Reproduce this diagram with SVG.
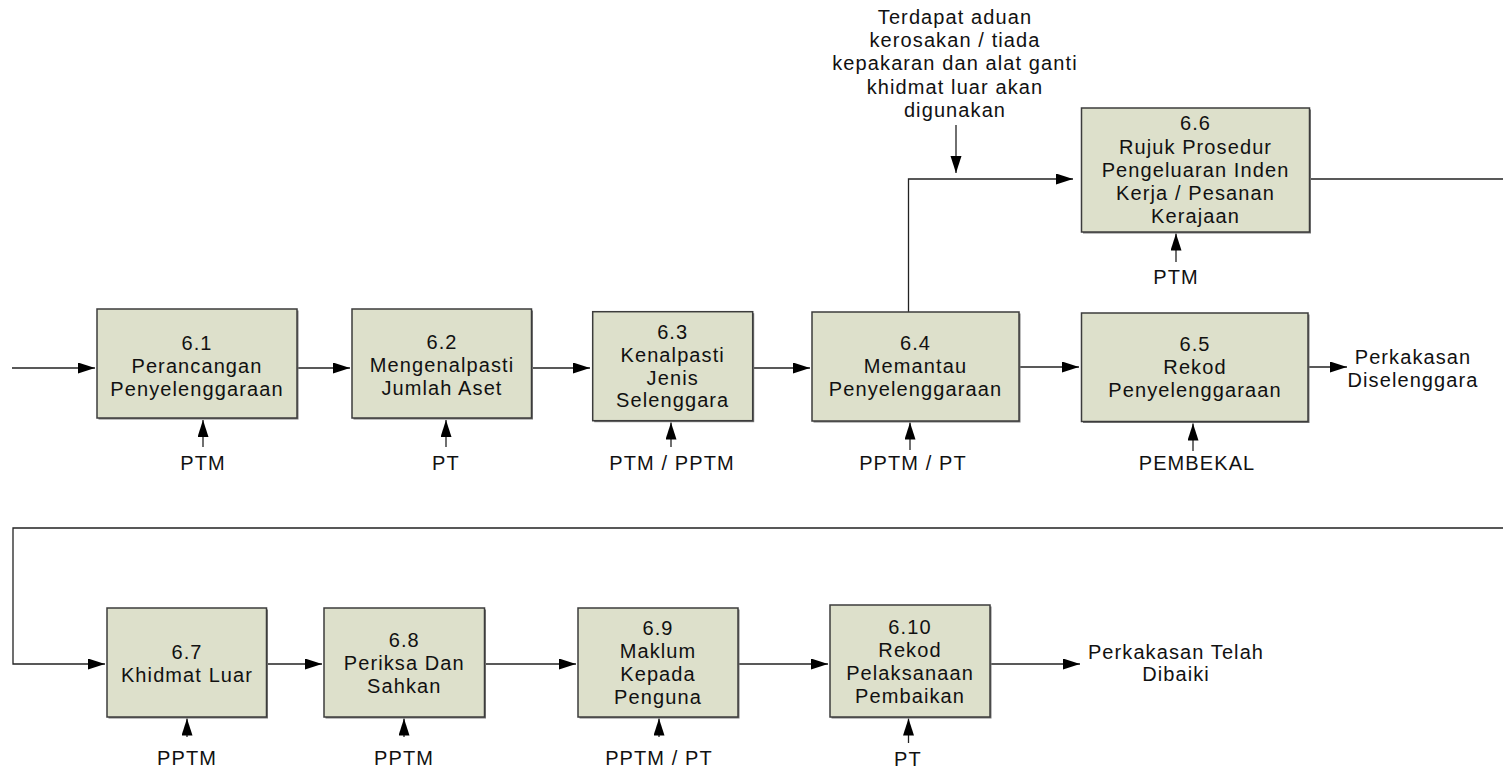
<svg xmlns="http://www.w3.org/2000/svg" width="1503" height="768" viewBox="0 0 1503 768">
<style>
text{font-family:"Liberation Sans",Arial,sans-serif;font-size:20px;letter-spacing:1.1px;fill:#111;text-anchor:middle}
.box{fill:#dde0cb;stroke:#3c3c3c;stroke-width:1.5}
.sh{fill:#7a7a7a}
.c{fill:none;stroke:#222;stroke-width:1.3}
</style>
<defs>
<marker id="ah" markerUnits="userSpaceOnUse" markerWidth="18" markerHeight="12" refX="17" refY="5.5" orient="auto">
<path d="M0,0 L17,5.5 L0,11 z" fill="#000"/>
</marker>
</defs>
<rect width="1503" height="768" fill="#fff"/>

<g id="connectors">
<path class="c" d="M12,368 H95" marker-end="url(#ah)"/>
<path class="c" d="M297,368 H350" marker-end="url(#ah)"/>
<path class="c" d="M531.5,368 H590" marker-end="url(#ah)"/>
<path class="c" d="M752.7,368 H810" marker-end="url(#ah)"/>
<path class="c" d="M1019,367 H1079" marker-end="url(#ah)"/>
<path class="c" d="M1308,367 H1347" marker-end="url(#ah)"/>
<path class="c" d="M908.5,312 V179 H1073" marker-end="url(#ah)"/>
<path class="c" d="M956,125 V173" marker-end="url(#ah)"/>
<path class="c" d="M1310,179 H1503"/>
<path class="c" d="M1503,528 H13 V664 H105" marker-end="url(#ah)"/>
<path class="c" d="M266.5,664 H322" marker-end="url(#ah)"/>
<path class="c" d="M485,664 H576" marker-end="url(#ah)"/>
<path class="c" d="M738,664 H828" marker-end="url(#ah)"/>
<path class="c" d="M990,664 H1080" marker-end="url(#ah)"/>
<path class="c" d="M203,447 V420" marker-end="url(#ah)"/>
<path class="c" d="M446,447 V420" marker-end="url(#ah)"/>
<path class="c" d="M671,447 V422.5" marker-end="url(#ah)"/>
<path class="c" d="M910,450 V422.5" marker-end="url(#ah)"/>
<path class="c" d="M1193,451 V423.5" marker-end="url(#ah)"/>
<path class="c" d="M1176,262 V233.5" marker-end="url(#ah)"/>
<path class="c" d="M187,737 V718.5" marker-end="url(#ah)"/>
<path class="c" d="M404,737 V718.5" marker-end="url(#ah)"/>
<path class="c" d="M659,737 V718.5" marker-end="url(#ah)"/>
<path class="c" d="M908.5,743 V718.5" marker-end="url(#ah)"/>
</g>

<g id="n6_1">
<rect class="sh" x="98.5" y="310.5" width="200" height="109"/>
<rect class="box" x="97" y="309" width="200" height="109"/>
<text x="197" y="350">6.1</text><text x="197" y="373">Perancangan</text><text x="197" y="396">Penyelenggaraan</text>
</g>
<g id="n6_2">
<rect class="sh" x="353.5" y="310.5" width="179.5" height="109"/>
<rect class="box" x="352" y="309" width="179.5" height="109"/>
<text x="442" y="349">6.2</text><text x="442" y="372">Mengenalpasti</text><text x="442" y="395">Jumlah Aset</text>
</g>
<g id="n6_3">
<rect class="sh" x="594.2" y="313.2" width="160" height="109"/>
<rect class="box" x="592.7" y="311.7" width="160" height="109"/>
<text x="672.7" y="339">6.3</text><text x="672.7" y="362">Kenalpasti</text><text x="672.7" y="385">Jenis</text><text x="672.7" y="407">Selenggara</text>
</g>
<g id="n6_4">
<rect class="sh" x="813.5" y="313.5" width="207" height="109"/>
<rect class="box" x="812" y="312" width="207" height="109"/>
<text x="915.5" y="350">6.4</text><text x="915.5" y="373">Memantau</text><text x="915.5" y="396">Penyelenggaraan</text>
</g>
<g id="n6_5">
<rect class="sh" x="1083" y="314.5" width="226.5" height="108.5"/>
<rect class="box" x="1081.5" y="313" width="226.5" height="108.5"/>
<text x="1195" y="351">6.5</text><text x="1195" y="374">Rekod</text><text x="1195" y="397">Penyelenggaraan</text>
</g>
<g id="n6_6">
<rect class="sh" x="1083" y="109.5" width="228" height="124"/>
<rect class="box" x="1081.5" y="108" width="228" height="124"/>
<text x="1195.5" y="130">6.6</text><text x="1195.5" y="153.5">Rujuk Prosedur</text><text x="1195.5" y="177">Pengeluaran Inden</text><text x="1195.5" y="200">Kerja / Pesanan</text><text x="1195.5" y="223">Kerajaan</text>
</g>
<g id="n6_7">
<rect class="sh" x="108.5" y="609.5" width="159.5" height="109"/>
<rect class="box" x="107" y="608" width="159.5" height="109"/>
<text x="187" y="659">6.7</text><text x="187" y="682">Khidmat Luar</text>
</g>
<g id="n6_8">
<rect class="sh" x="325.5" y="609.5" width="160.5" height="109"/>
<rect class="box" x="324" y="608" width="160.5" height="109"/>
<text x="404.3" y="647">6.8</text><text x="404.3" y="670">Periksa Dan</text><text x="404.3" y="693">Sahkan</text>
</g>
<g id="n6_9">
<rect class="sh" x="579.5" y="609.5" width="160" height="109"/>
<rect class="box" x="578" y="608" width="160" height="109"/>
<text x="658" y="635">6.9</text><text x="658" y="658">Maklum</text><text x="658" y="681">Kepada</text><text x="658" y="704">Penguna</text>
</g>
<g id="n6_10">
<rect class="sh" x="831.5" y="606.5" width="160" height="112"/>
<rect class="box" x="830" y="605" width="160" height="112"/>
<text x="910" y="634">6.10</text><text x="910" y="657">Rekod</text><text x="910" y="680">Pelaksanaan</text><text x="910" y="703">Pembaikan</text>
</g>

<g id="labels">
<text x="955" y="24">Terdapat aduan</text>
<text x="955" y="47">kerosakan / tiada</text>
<text x="955" y="70">kepakaran dan alat ganti</text>
<text x="955" y="94">khidmat luar akan</text>
<text x="955" y="117">digunakan</text>
<text x="1413" y="364">Perkakasan</text>
<text x="1413" y="387">Diselenggara</text>
<text x="1176" y="659">Perkakasan Telah</text>
<text x="1176" y="681">Dibaiki</text>
<text x="203" y="470">PTM</text>
<text x="446" y="470">PT</text>
<text x="672" y="470">PTM / PPTM</text>
<text x="913" y="470">PPTM / PT</text>
<text x="1197" y="470">PEMBEKAL</text>
<text x="1176" y="284">PTM</text>
<text x="187" y="765">PPTM</text>
<text x="404" y="765">PPTM</text>
<text x="659" y="765">PPTM / PT</text>
<text x="908" y="766">PT</text>
</g>
</svg>
